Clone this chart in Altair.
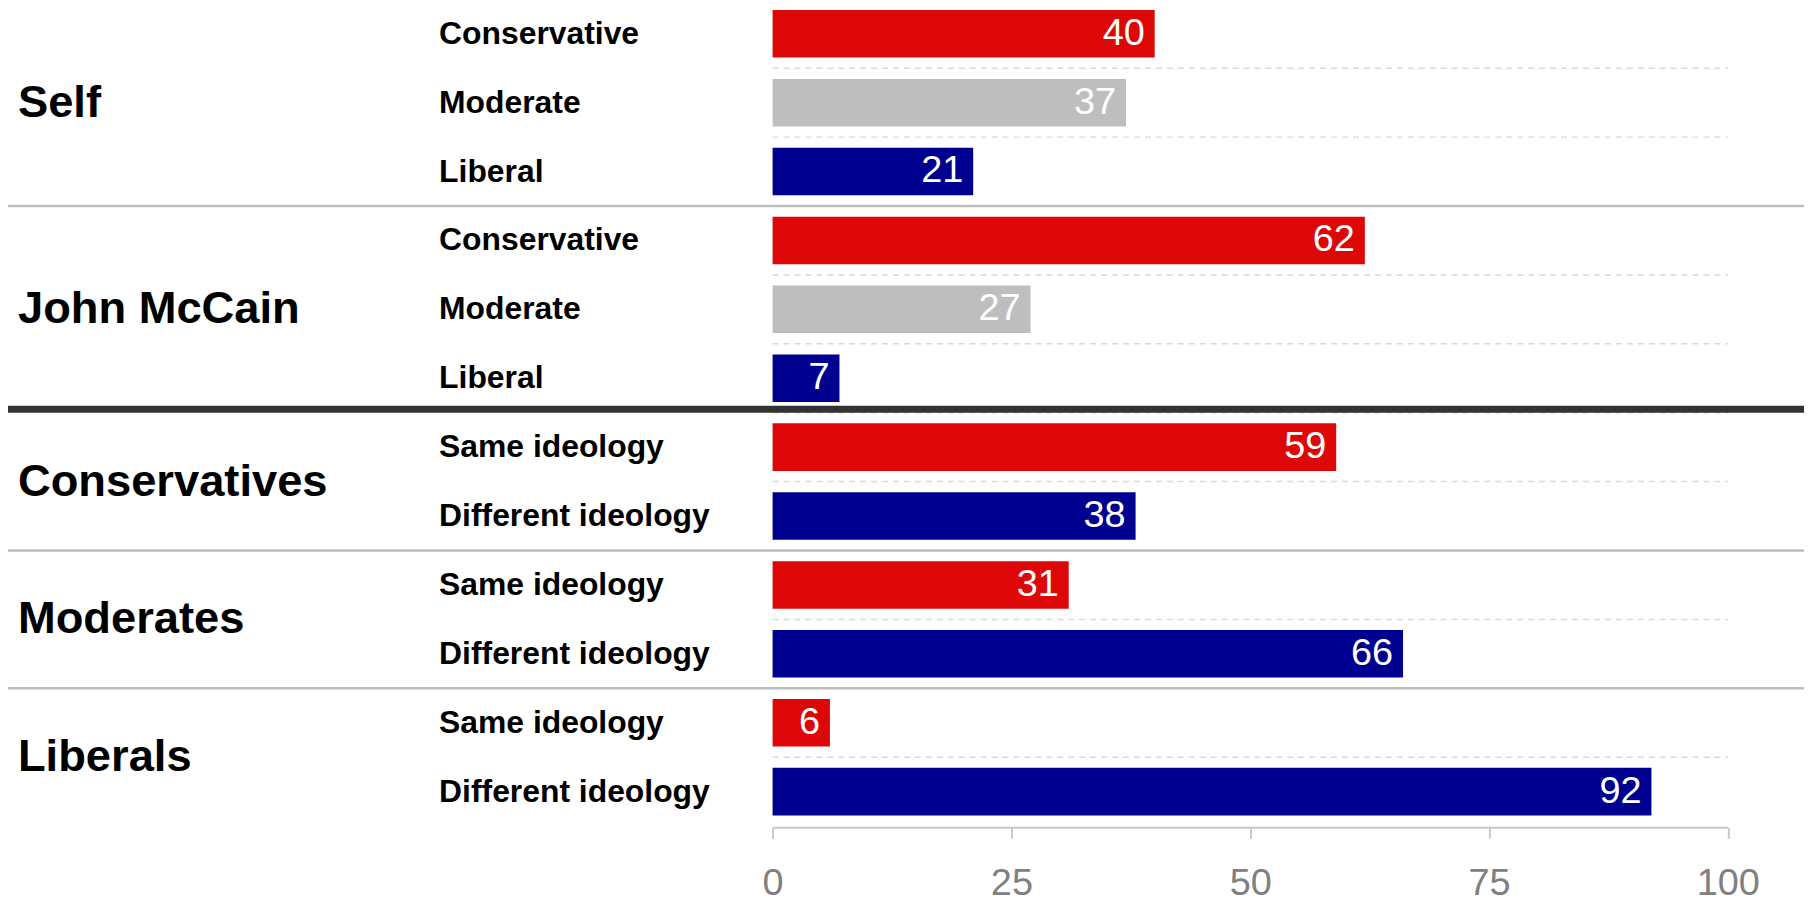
import altair as alt
import pandas as pd

# ---- data ----
groups = ["Self", "Self", "Self",
          "John McCain", "John McCain", "John McCain",
          "Conservatives", "Conservatives",
          "Moderates", "Moderates",
          "Liberals", "Liberals"]
items = ["Conservative", "Moderate", "Liberal",
         "Conservative", "Moderate", "Liberal",
         "Same ideology", "Different ideology",
         "Same ideology", "Different ideology",
         "Same ideology", "Different ideology"]
values = [40, 37, 21, 62, 27, 7, 59, 38, 31, 66, 6, 92]
sides = ["con", "mod", "lib", "con", "mod", "lib",
         "con", "lib", "con", "lib", "con", "lib"]

group_names = ["Self", "John McCain", "Conservatives", "Moderates", "Liberals"]
x_ticks = [0, 25, 50, 75, 100]

row_ids = [f"{g}|{i}" for g, i in zip(groups, items)]
df = pd.DataFrame({"row": row_ids, "group": groups, "item": items,
                   "value": values, "side": sides})

# group anchor rows
first_rows = {}
counts = {}
for idx, g in enumerate(groups):
    first_rows.setdefault(g, idx)
    counts[g] = counts.get(g, 0) + 1
odd_groups = pd.DataFrame({
    "group": [g for g in group_names if counts[g] % 2 == 1],
    "row": [row_ids[first_rows[g] + counts[g] // 2] for g in group_names if counts[g] % 2 == 1],
})
even_groups = pd.DataFrame({
    "group": [g for g in group_names if counts[g] % 2 == 0],
    "row": [row_ids[first_rows[g] + counts[g] // 2] for g in group_names if counts[g] % 2 == 0],
})

# boundaries
inner = pd.DataFrame({"row": row_ids[1:]})
group_starts = [row_ids[first_rows[g]] for g in group_names[1:]]
thick_row = row_ids[first_rows["Conservatives"]]
thick_df = pd.DataFrame({"row": [thick_row]})
thin_df = pd.DataFrame({"row": [r for r in group_starts if r != thick_row]})

FONT = "Liberation Sans"
PAD_IN = 0.31
HALF_GAP = 10.7
LEFT = 768
LINE_X1 = 6 - 8 - LEFT
LINE_X2 = 1812 - 8 - LEFT

yscale = alt.Scale(domain=row_ids, paddingInner=PAD_IN, paddingOuter=0)
yaxis = alt.Axis(title=None, domain=False, ticks=False, tickSize=0, grid=False,
                 labelAlign="left", labelPadding=335.5, labelFont=FONT,
                 labelFontWeight="bold", labelFontSize=32, labelColor="#000000",
                 labelLimit=0, labelBaseline="middle",
                 labelExpr="split(datum.label, '|')[1]")
xscale = alt.Scale(domain=[0, 100], nice=False, zero=True)
xaxis = alt.Axis(title=None, values=x_ticks, grid=False, offset=12,
                 domainColor="#C8C8C8", domainWidth=2,
                 tickColor="#C8C8C8", tickWidth=2, tickSize=11,
                 labelColor="#808080", labelFont=FONT, labelFontSize=38,
                 labelPadding=26, labelFlush=False)


def Y(**kw):
    return alt.Y("row:N", scale=yscale, axis=yaxis, sort=None, **kw)


dashed = alt.Chart(inner).mark_rule(
    color="#D9D9D9", strokeWidth=1.5, strokeDash=[6, 5], yOffset=-HALF_GAP
).encode(
    y=Y(bandPosition=0),
    x=alt.datum(0, scale=xscale, axis=xaxis),
    x2=alt.datum(100),
)

bars = alt.Chart(df).mark_bar().encode(
    y=Y(),
    x=alt.X("value:Q", scale=xscale, axis=xaxis),
    color=alt.Color("side:N", legend=None,
                    scale=alt.Scale(domain=["con", "mod", "lib"],
                                    range=["#DE0707", "#BEBEBE", "#000090"])),
)

labels = alt.Chart(df).mark_text(
    align="right", baseline="middle", dx=-10, color="white",
    font=FONT, fontSize=38
).encode(
    y=Y(),
    x=alt.X("value:Q", scale=xscale, axis=xaxis),
    text=alt.Text("value:Q"),
)

thin = alt.Chart(thin_df).mark_rule(
    color="#BEBEBE", strokeWidth=2.5, yOffset=-HALF_GAP
).encode(
    y=Y(bandPosition=0),
    x=alt.value(LINE_X1),
    x2=alt.value(LINE_X2),
)

thick = alt.Chart(thick_df).mark_rule(
    color="#333333", strokeWidth=7, yOffset=-HALF_GAP - 3.5
).encode(
    y=Y(bandPosition=0),
    x=alt.value(LINE_X1),
    x2=alt.value(LINE_X2),
)

glabel_odd = alt.Chart(odd_groups).mark_text(
    align="left", baseline="middle", font=FONT, fontWeight="bold",
    fontSize=45.5, color="#000000"
).encode(
    y=Y(),
    x=alt.value(-758),
    text="group:N",
)

glabel_even = alt.Chart(even_groups).mark_text(
    align="left", baseline="middle", font=FONT, fontWeight="bold",
    fontSize=45.5, color="#000000", dy=-34.6
).encode(
    y=Y(),
    x=alt.value(-758),
    text="group:N",
)

chart = alt.layer(
    dashed, bars, labels, thin, thick, glabel_odd, glabel_even
).properties(
    width=959.5, height=809,
    background="white",
    autosize=alt.AutoSizeParams(type="none"),
    padding={"left": LEFT, "top": 0, "right": LINE_X2 - 959.5, "bottom": 85},
).configure_view(stroke=None)

chart.save("out.html", embed_options={"renderer": "svg", "actions": False})
